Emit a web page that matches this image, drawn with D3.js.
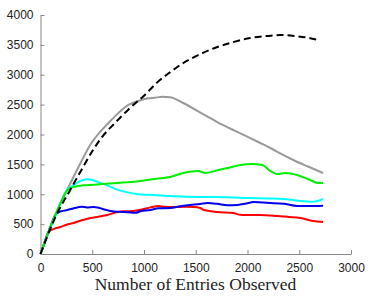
<!doctype html>
<html lang="en">
<head>
<meta charset="utf-8" />
<title>Entries Observed</title>
<style>
  html, body { margin: 0; padding: 0; background: #fff; }
  .tick text { font: 12px "Liberation Sans", Arial, sans-serif; fill: #222; }
  .axis path, .axis line { stroke: #888; }
  .title { font: 17.5px "Liberation Serif", "Times New Roman", serif; fill: #222; }
</style>
</head>
<body>
<svg id="chart" width="374" height="299"></svg>
<script src="https://cdn.jsdelivr.net/npm/d3@7/dist/d3.min.js"></script>
<script>
// values: [entries, count]
const xTicks = [0, 500, 1000, 1500, 2000, 2500, 3000];
const yTicks = [0, 500, 1000, 1500, 2000, 2500, 3000, 3500, 4000];

const dashed = [[0,0],[150,640],[290,1080],[400,1420],[500,1720],[600,1970],[724,2200],[850,2420],[1000,2650],
  [1120,2860],[1250,3040],[1380,3197],[1550,3350],[1708,3464],[1870,3550],[2027,3615],[2200,3650],[2316,3665],
  [2450,3650],[2580,3620],[2683,3581]];
const gray = [[0,0],[40,195],[77,368],[145,660],[200,877],[260,1085],[290,1188],[367,1456],[492,1858],[600,2090],
  [685,2243],[849,2494],[960,2570],[1042,2605],[1100,2615],[1180,2630],[1250,2625],[1380,2527],[1540,2370],
  [1708,2209],[1870,2070],[2027,1941],[2124,1858],[2220,1774],[2330,1670],[2442,1573],[2590,1460],[2730,1356]];
const red = [[0,0],[40,195],[77,368],[130,420],[193,452],[250,490],[319,519],[400,565],[483,603],[560,625],
  [647,653],[743,703],[820,715],[898,720],[980,745],[1062,780],[1139,803],[1200,790],[1284,787],[1400,790],
  [1477,787],[1544,770],[1573,740],[1708,703],[1863,686],[1931,655],[2124,653],[2288,636],[2400,620],
  [2510,603],[2635,552],[2730,535]];
const blue = [[0,0],[40,195],[77,368],[110,520],[145,660],[200,715],[261,736],[330,770],[396,790],[450,780],
  [512,787],[570,770],[627,740],[676,720],[760,705],[840,700],[917,690],[965,715],[1062,736],[1139,765],
  [1255,770],[1350,800],[1448,820],[1544,837],[1612,854],[1708,840],[1805,815],[1902,820],[2000,850],
  [2056,870],[2150,860],[2220,854],[2350,840],[2481,803],[2606,803],[2730,808]];
const cyan = [[0,0],[40,195],[77,368],[145,660],[200,877],[260,1080],[300,1130],[367,1205],[444,1250],[500,1240],
  [560,1200],[627,1160],[720,1090],[820,1040],[950,1000],[1062,990],[1200,975],[1400,960],[1544,954],
  [1800,950],[2027,937],[2200,930],[2350,920],[2510,887],[2635,875],[2730,920]];
const green = [[0,0],[40,195],[77,368],[145,660],[200,877],[261,1071],[319,1121],[415,1150],[520,1160],
  [627,1175],[750,1190],[878,1205],[1000,1230],[1120,1260],[1250,1290],[1380,1356],[1525,1389],[1593,1356],
  [1708,1400],[1805,1439],[1931,1490],[2046,1506],[2143,1490],[2220,1389],[2297,1339],[2365,1356],
  [2481,1322],[2606,1238],[2683,1188],[2730,1188]];

const series = [
  { data: gray, color: '#999999' },
  { data: red, color: '#ff0000' },
  { data: blue, color: '#0000ee' },
  { data: cyan, color: '#00ffff' },
  { data: green, color: '#00ee00' },
  { data: dashed, color: '#000000', dash: '7,4' },
];

const svg = d3.select('#chart');
const x = d3.scaleLinear().domain([0, 3000]).range([40.5, 351]);
const y = d3.scaleLinear().domain([0, 4000]).range([254, 15]);

// inward ticks, no outer ticks, like the reference
svg.append('g').attr('class', 'axis').attr('transform', 'translate(0,254)')
  .call(d3.axisBottom(x).tickValues(xTicks).tickFormat(d3.format('d')).tickSizeInner(-4).tickSizeOuter(0).tickPadding(9));
svg.append('g').attr('class', 'axis').attr('transform', 'translate(40.5,0)')
  .call(d3.axisLeft(y).tickValues(yTicks).tickFormat(d3.format('d')).tickSizeInner(-4).tickSizeOuter(0).tickPadding(7));

const line = d3.line().x(d => x(d[0])).y(d => y(d[1])).curve(d3.curveMonotoneX);

svg.selectAll('path.series').data(series).join('path')
  .attr('class', 'series')
  .attr('fill', 'none')
  .attr('stroke', d => d.color)
  .attr('stroke-width', 2)
  .attr('stroke-dasharray', d => d.dash || null)
  .attr('d', d => line(d.data));

svg.append('text').attr('class', 'title')
  .attr('x', 195.5).attr('y', 290).attr('text-anchor', 'middle')
  .text('Number of Entries Observed');
</script>
</body>
</html>
